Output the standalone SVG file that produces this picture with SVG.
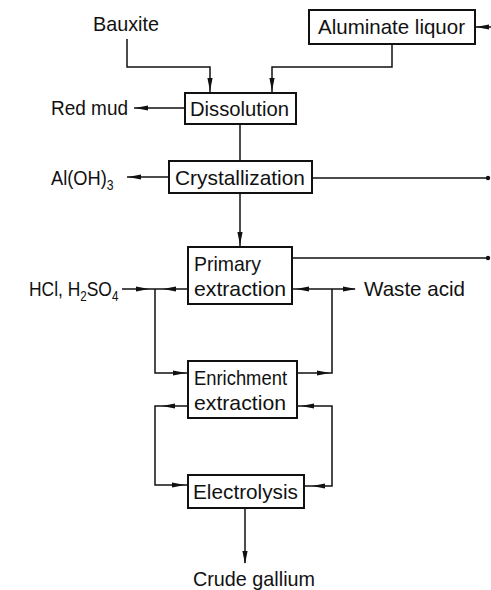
<svg xmlns="http://www.w3.org/2000/svg" xmlns:xlink="http://www.w3.org/1999/xlink" width="491" height="590" viewBox="0 0 491 590">
<style>
text{font-family:"Liberation Sans",Arial,sans-serif;font-size:21px;fill:#111}
.box{fill:#fff;stroke:#111;stroke-width:2}
.ln{fill:none;stroke:#111;stroke-width:1.5}
.ah{fill:#111}
.sub{font-size:14px}
</style>
<defs>
<path id="ah" class="ah" d="M0,0 L-13,-2.6 L-13,2.6 Z"/>
</defs>
<rect width="491" height="590" fill="#fff"/>
<g id="connectors">
<path class="ln" d="M491,27 H476"/>
<use xlink:href="#ah" transform="translate(476,27) rotate(180)"/>
<path class="ln" d="M127,39 V67 H210 V93"/>
<use xlink:href="#ah" transform="translate(210,91) rotate(90)"/>
<path class="ln" d="M392,44 V67 H272 V93"/>
<use xlink:href="#ah" transform="translate(272,91) rotate(90)"/>
<path class="ln" d="M185,108 H134"/>
<use xlink:href="#ah" transform="translate(135,108) rotate(180)"/>
<path class="ln" d="M240,124 V161"/>
<path class="ln" d="M169,177 H127"/>
<use xlink:href="#ah" transform="translate(128,177) rotate(180)"/>
<path class="ln" d="M312,178 H488"/>
<circle cx="488" cy="178" r="2.2" fill="#111"/>
<path class="ln" d="M240,193 V247"/>
<use xlink:href="#ah" transform="translate(240,245) rotate(90)"/>
<path class="ln" d="M292,258 H488"/>
<circle cx="488" cy="258" r="2.2" fill="#111"/>
<path class="ln" d="M122,289 H188"/>
<use xlink:href="#ah" transform="translate(149,289)"/>
<use xlink:href="#ah" transform="translate(163,289) rotate(180)"/>
<path class="ln" d="M155,289 V373 H188"/>
<use xlink:href="#ah" transform="translate(186,373)"/>
<path class="ln" d="M292,289 H355"/>
<use xlink:href="#ah" transform="translate(296,289) rotate(180)"/>
<use xlink:href="#ah" transform="translate(356,289)"/>
<path class="ln" d="M332,289 V373 H297"/>
<use xlink:href="#ah" transform="translate(330,373)"/>
<path class="ln" d="M188,406 H155 V485 H188"/>
<use xlink:href="#ah" transform="translate(162,406) rotate(180)"/>
<use xlink:href="#ah" transform="translate(185,485)"/>
<path class="ln" d="M297,406 H332 V486 H304"/>
<use xlink:href="#ah" transform="translate(301,406) rotate(180)"/>
<use xlink:href="#ah" transform="translate(312,486) rotate(180)"/>
<path class="ln" d="M245,508 V563"/>
<use xlink:href="#ah" transform="translate(245,564) rotate(90)"/>
</g>
<g id="bauxite"><text x="93" y="31" textLength="66" lengthAdjust="spacingAndGlyphs">Bauxite</text></g>
<g id="aluminate-liquor"><rect class="box" x="309" y="10" width="166" height="34"/><text x="318" y="34" textLength="147" lengthAdjust="spacingAndGlyphs">Aluminate liquor</text></g>
<g id="dissolution"><rect class="box" x="185" y="93" width="111" height="31"/><text x="190" y="116" textLength="99" lengthAdjust="spacingAndGlyphs">Dissolution</text></g>
<g id="red-mud"><text x="51" y="115" textLength="77" lengthAdjust="spacingAndGlyphs">Red mud</text></g>
<g id="crystallization"><rect class="box" x="169" y="161" width="143" height="32"/><text x="175" y="185" textLength="130" lengthAdjust="spacingAndGlyphs">Crystallization</text></g>
<g id="aloh3"><text transform="translate(51,185) scale(0.87,1)">Al(OH)<tspan class="sub" dy="5">3</tspan></text></g>
<g id="primary-extraction"><rect class="box" x="188" y="247" width="104" height="57"/><text x="194" y="271" textLength="67" lengthAdjust="spacingAndGlyphs">Primary</text><text x="194" y="296" textLength="92" lengthAdjust="spacingAndGlyphs">extraction</text></g>
<g id="acids"><text transform="translate(29,296) scale(0.83,1)">HCl, H<tspan class="sub" dy="5">2</tspan><tspan dy="-5">SO</tspan><tspan class="sub" dy="5">4</tspan></text></g>
<g id="waste-acid"><text x="364" y="296" textLength="101" lengthAdjust="spacingAndGlyphs">Waste acid</text></g>
<g id="enrichment-extraction"><rect class="box" x="188" y="361" width="109" height="57"/><text x="194" y="385" textLength="93" lengthAdjust="spacingAndGlyphs">Enrichment</text><text x="194" y="410" textLength="92" lengthAdjust="spacingAndGlyphs">extraction</text></g>
<g id="electrolysis"><rect class="box" x="188" y="475" width="116" height="33"/><text x="193" y="499" textLength="105" lengthAdjust="spacingAndGlyphs">Electrolysis</text></g>
<g id="crude-gallium"><text x="193" y="586" textLength="122" lengthAdjust="spacingAndGlyphs">Crude gallium</text></g>
</svg>
